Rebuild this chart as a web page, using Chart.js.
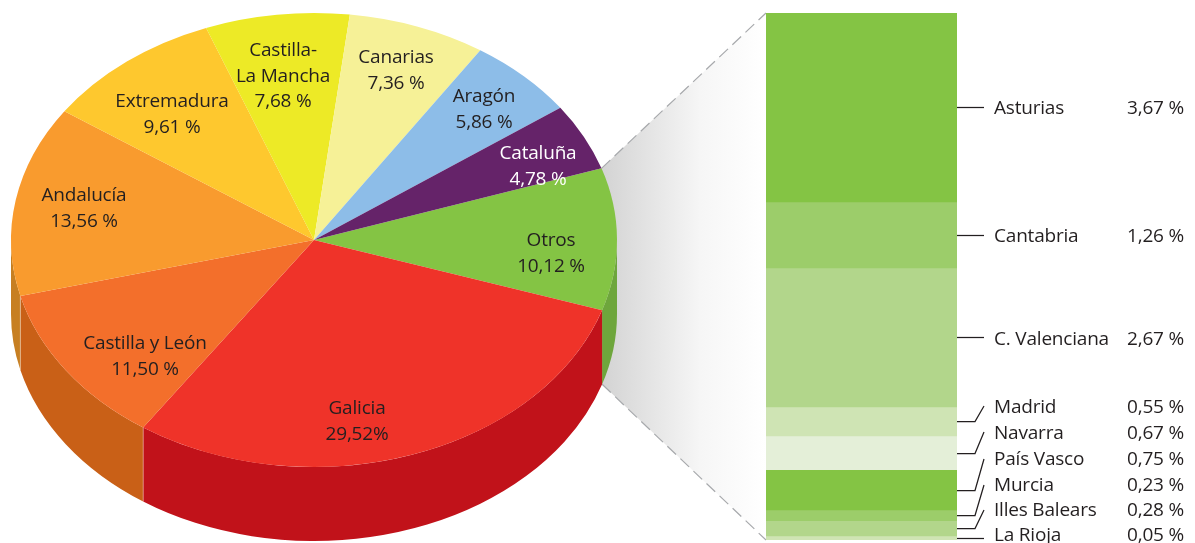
<!DOCTYPE html>
<html>
<head>
<meta charset="utf-8">
<title>Reparto por comunidades</title>
<script src="https://cdn.jsdelivr.net/npm/chart.js@4/dist/chart.umd.min.js"></script>
<style>
  html, body { margin: 0; padding: 0; background: #fff; }
  #wrap { position: relative; width: 1195px; height: 543px; overflow: hidden; }
  canvas { position: absolute; left: 0; top: 0; }
</style>
</head>
<body>
<div id="wrap">
  <canvas id="pieChart" width="1195" height="543"></canvas>
  <canvas id="barChart" width="1195" height="543"></canvas>
</div>
<script>
// --- data ---
const pieNames = ['Otros', 'Galicia', 'Castilla y León', 'Andalucía', 'Extremadura', 'Castilla-\nLa Mancha', 'Canarias', 'Aragón', 'Cataluña'];
const pieValues = [10.12, 29.52, 11.50, 13.56, 9.61, 7.68, 7.36, 5.86, 4.78];
const pieValueLabels = ['10,12 %', '29,52%', '11,50 %', '13,56 %', '9,61 %', '7,68 %', '7,36 %', '5,86 %', '4,78 %'];

const otrosNames = ['Asturias', 'Cantabria', 'C. Valenciana', 'Madrid', 'Navarra', 'País Vasco', 'Murcia', 'Illes Balears', 'La Rioja'];
// band heights as drawn in the picture, close to the printed figures
const otrosValues = [3.63, 1.27, 2.67, 0.56, 0.65, 0.77, 0.21, 0.29, 0.08];
const otrosValueLabels = ['3,67 %', '1,26 %', '2,67 %', '0,55 %', '0,67 %', '0,75 %', '0,23 %', '0,28 %', '0,05 %'];

// --- styles ---
const pieColors = ['#84c444', '#ef3329', '#f36f2b', '#f99b2e', '#fec82e', '#edea26', '#f6f197', '#8dbde8', '#652369'];
const rimColors = ['#6ea63c', '#c1121a', '#c96017', '#c77f22', '#c77f22', '#c77f22', '#c77f22', '#c77f22', '#c77f22'];
const bandColors = ['#84c444', '#9ccd6a', '#b2d68b', '#cfe4b4', '#e4efd8', '#84c444', '#9ccd6a', '#b2d68b', '#cfe4b4'];
const textColor = '#231f20';
const labelFont = '19px "Open Sans"';
const labelSpacing = '-0.2px';

const centerY = 240;
const squash = 227 / 303;
const depth = 74;

// text spots inside the pie (centre x, first baseline y)
const pieLabelSpots = [[551, 246], [357, 414], [145, 349], [84, 201], [172, 107], [283, 56], [396, 63], [484, 102], [538, 159]];
const lineGap = 25.5;

// ellipse point for a canvas angle
const ellipsePoint = (arc, angle, rx) => ({
  x: arc.x + rx * Math.cos(angle),
  y: centerY + rx * squash * Math.sin(angle)
});

// --- 1) pie: squashed arcs, extruded rim, zoom wedge ---
const tiltPlugin = {
  id: 'tilt',
  beforeDatasetsDraw(chart) {
    const ctx = chart.ctx;
    const arcs = chart.getDatasetMeta(0).data;
    const rx = arcs[0].outerRadius;
    const ry = rx * squash;
    const cx = arcs[0].x;

    // wedge behind the pie, from the ends of the Otros slice to the bar
    const from = ellipsePoint(arcs[0], arcs[0].startAngle, rx);
    const to = ellipsePoint(arcs[0], arcs[0].endAngle, rx);
    const barTop = 13, barBottom = 540, barLeft = 766;
    const toBottom = { x: to.x, y: to.y + depth };
    const grad = ctx.createLinearGradient(from.x, 0, barLeft, 0);
    grad.addColorStop(0, '#d3d3d3');
    grad.addColorStop(0.6, '#f6f6f6');
    grad.addColorStop(1, '#ffffff');
    ctx.save();
    ctx.fillStyle = grad;
    ctx.beginPath();
    ctx.moveTo(from.x, from.y);
    ctx.lineTo(barLeft, barTop);
    ctx.lineTo(barLeft, barBottom);
    ctx.lineTo(toBottom.x, toBottom.y);
    ctx.closePath();
    ctx.fill();

    ctx.strokeStyle = '#a7a9ac';
    ctx.lineWidth = 1.2;
    ctx.setLineDash([12, 6]);
    ctx.beginPath();
    ctx.moveTo(from.x, from.y);
    ctx.lineTo(barLeft, barTop);
    ctx.moveTo(toBottom.x, toBottom.y);
    ctx.lineTo(barLeft, barBottom);
    ctx.stroke();
    ctx.setLineDash([]);

    // rim, only the front half of the ellipse shows
    arcs.forEach((arc, i) => {
      let a0 = arc.startAngle;
      let a1 = arc.endAngle;
      a0 = ((a0 % (2 * Math.PI)) + 2 * Math.PI) % (2 * Math.PI);
      a1 = a0 + (arc.endAngle - arc.startAngle);
      const segs = [[a0, a1], [a0 - 2 * Math.PI, a1 - 2 * Math.PI]];
      segs.forEach(([s, e]) => {
        const start = Math.max(s, 0);
        const end = Math.min(e, Math.PI);
        if (end <= start) return;
        ctx.fillStyle = rimColors[i];
        ctx.beginPath();
        ctx.ellipse(cx, centerY, rx, ry, 0, start, end);
        ctx.ellipse(cx, centerY + depth, rx, ry, 0, end, start, true);
        ctx.closePath();
        ctx.fill();
      });
    });

    // pale seams on the rim at the two left slice ends
    ctx.strokeStyle = 'rgba(255,255,255,0.35)';
    ctx.lineWidth = 1;
    [arcs[1], arcs[2]].forEach(arc => {
      const p = ellipsePoint(arc, arc.endAngle, rx);
      ctx.beginPath();
      ctx.moveTo(p.x, p.y);
      ctx.lineTo(p.x, p.y + depth);
      ctx.stroke();
    });
    ctx.restore();

    ctx.save();
    ctx.translate(0, centerY);
    ctx.scale(1, squash);
    ctx.translate(0, -arcs[0].y);
  },
  afterDatasetsDraw(chart) {
    chart.ctx.restore();
  },
  afterDraw(chart) {
    const ctx = chart.ctx;
    ctx.save();
    ctx.font = labelFont;
    ctx.letterSpacing = labelSpacing;
    ctx.textAlign = 'center';
    ctx.textBaseline = 'alphabetic';
    pieNames.forEach((name, i) => {
      const [x, y] = pieLabelSpots[i];
      const lines = name.split('\n').concat(pieValueLabels[i]);
      ctx.fillStyle = name === 'Cataluña' ? '#ffffff' : textColor;
      lines.forEach((line, k) => ctx.fillText(line, x, y + k * lineGap));
    });
    ctx.restore();
  }
};

new Chart(document.getElementById('pieChart'), {
  type: 'pie',
  data: {
    labels: pieNames,
    datasets: [{
      data: pieValues,
      backgroundColor: pieColors,
      borderWidth: 0,
      clip: false
    }]
  },
  options: {
    responsive: false,
    animation: false,
    radius: 303,
    rotation: 71.6,
    layout: { padding: { right: 567 } },
    plugins: { legend: { display: false }, tooltip: { enabled: false } }
  },
  plugins: [tiltPlugin]
});

// --- 2) stacked bar with leader lines ---
// label baselines and where each leader ends on the label side
const otrosLabelY = [114, 242, 345, 413, 439, 465, 491, 516, 541];
const leaderEndY = [null, null, null, 406, 432, 459, 485, 510, null];

const leaderPlugin = {
  id: 'leaders',
  afterDraw(chart) {
    const ctx = chart.ctx;
    const right = chart.chartArea.right;
    ctx.save();
    ctx.strokeStyle = textColor;
    ctx.lineWidth = 1.25;
    otrosNames.forEach((name, i) => {
      const bar = chart.getDatasetMeta(i).data[0];
      const y = Math.round(bar.y + (bar.base - bar.y) / 2) + 0.5;
      ctx.beginPath();
      ctx.moveTo(right, y);
      if (leaderEndY[i] === null) {
        ctx.lineTo(right + 27, y);
      } else {
        ctx.lineTo(right + 18, y);
        ctx.lineTo(right + 27, leaderEndY[i]);
      }
      ctx.stroke();
    });
    ctx.font = labelFont;
    ctx.letterSpacing = labelSpacing;
    ctx.fillStyle = textColor;
    ctx.textBaseline = 'alphabetic';
    otrosNames.forEach((name, i) => {
      ctx.textAlign = 'left';
      ctx.fillText(name, 994, otrosLabelY[i]);
      ctx.textAlign = 'right';
      ctx.fillText(otrosValueLabels[i], 1184, otrosLabelY[i]);
    });
    ctx.restore();
  }
};

new Chart(document.getElementById('barChart'), {
  type: 'bar',
  data: {
    labels: ['Otros'],
    datasets: otrosNames.map((name, i) => ({
      label: name,
      data: [otrosValues[i]],
      backgroundColor: bandColors[i],
      borderWidth: 0,
      barPercentage: 1,
      categoryPercentage: 1
    }))
  },
  options: {
    responsive: false,
    animation: false,
    layout: { padding: { left: 766, right: 238, top: 13, bottom: 3 } },
    scales: {
      x: { stacked: true, display: false },
      y: { stacked: true, display: false, reverse: true, min: 0, max: 10.13 }
    },
    plugins: { legend: { display: false }, tooltip: { enabled: false } }
  },
  plugins: [leaderPlugin]
});
</script>
</body>
</html>
